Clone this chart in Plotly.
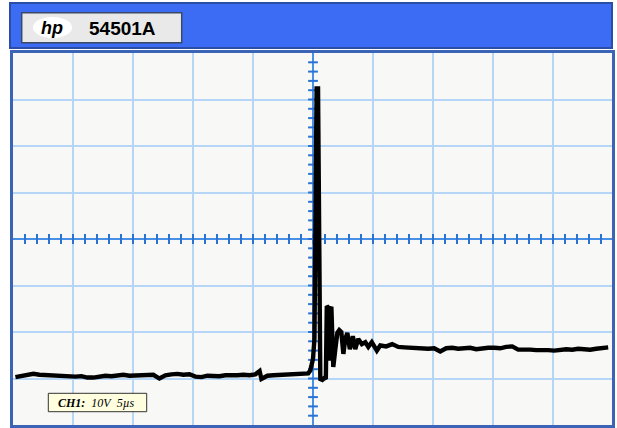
import plotly.graph_objects as go

# ---- data (time in microseconds, amplitude in volts) ----
base_t = [-24.8, -24.3, -23.8, -23.3, -22.8, -22.3, -21.8, -21.3, -20.8, -20.3,
          -19.8, -19.3, -18.8, -18.3, -17.8, -17.3, -16.8, -16.3, -15.8, -15.3,
          -14.8, -14.3, -13.8, -13.3, -12.8, -12.3, -11.8, -11.3, -10.8, -10.3,
          -9.8, -9.3, -8.8, -8.3, -7.8, -7.3, -6.8, -6.3, -5.8, -5.3,
          -4.8, -4.45, -4.3, -3.8, -3.3, -2.8, -2.3, -1.8, -1.3, -0.8, -0.4]
base_v = [-29.7, -29.5, -29.4, -29.0, -29.2, -29.3, -29.4, -29.3, -29.5, -29.6,
          -29.6, -29.5, -29.8, -29.8, -29.6, -29.4, -29.5, -29.3, -29.2, -29.4,
          -29.3, -29.2, -29.3, -29.2, -30.0, -29.3, -29.1, -29.0, -29.2, -29.1,
          -29.6, -29.7, -29.4, -29.5, -29.5, -29.3, -29.4, -29.3, -29.2, -29.3,
          -29.1, -28.4, -30.1, -29.4, -29.3, -29.2, -29.1, -29.0, -29.0, -28.9, -28.9]

edge_t = [-0.23, 0.0, 0.12, 0.30, 0.42, 0.61, 0.78, 0.94, 1.07, 1.15, 1.23, 1.32,
          1.40, 1.53, 1.69, 1.86, 2.03, 2.19, 2.36, 2.53, 2.69, 2.86, 3.07, 3.32,
          3.52, 3.77, 4.07, 4.36, 4.61, 4.90, 5.32, 5.61]
edge_v = [-28.3, -25.8, -21.5, 32.4, 32.4, -30.1, -30.3, -29.9, -30.1, -14.4, -14.6, -26.2,
          -15.1, -14.6, -27.5, -23.7, -20.2, -19.6, -20.0, -24.7, -21.5, -20.2, -23.7, -20.9,
          -23.7, -21.5, -22.6, -22.2, -23.2, -22.2, -24.0, -22.9]

tail_t = [6.1, 6.6, 7.1, 7.6, 8.1, 8.6, 9.1, 9.6, 10.1, 10.6,
          11.1, 11.6, 12.1, 12.6, 13.1, 13.6, 14.1, 14.6, 15.1, 15.6,
          16.1, 16.6, 17.1, 17.6, 18.1, 18.6, 19.1, 19.6, 20.1, 20.6,
          21.1, 21.6, 22.1, 22.6, 23.1, 23.6, 24.1, 24.6]
tail_v = [-23.1, -22.6, -23.2, -23.3, -23.4, -23.5, -23.4, -23.6, -23.5, -24.2,
          -23.5, -23.4, -23.6, -23.5, -23.4, -23.7, -23.5, -23.4, -23.4, -23.5,
          -23.2, -23.1, -23.8, -23.7, -23.8, -23.9, -23.8, -23.9, -24.0, -23.8,
          -23.7, -23.8, -23.6, -23.7, -23.8, -23.6, -23.4, -23.3]

model_label = "54501A"
channel_label = "<b><i>CH1:</i></b>&nbsp; <i>10V&nbsp; 5µs</i>"

x_range = [-25, 25]
y_range = [-40, 40]

# graticule minor ticks on the centre axes (grid positions)
minor_x = [i * 1.0 for i in range(-24, 25)]
minor_y = [i * 2.0 for i in range(-19, 20)]

fig = go.Figure()

fig.add_trace(go.Scatter(x=minor_x, y=[0] * len(minor_x), mode="markers",
                         marker=dict(symbol="line-ns", size=7,
                                     line=dict(color="#2a72d6", width=2)),
                         hoverinfo="skip", showlegend=False))
fig.add_trace(go.Scatter(x=[0] * len(minor_y), y=minor_y, mode="markers",
                         marker=dict(symbol="line-ew", size=7,
                                     line=dict(color="#2a72d6", width=2)),
                         hoverinfo="skip", showlegend=False))

fig.add_trace(go.Scatter(x=base_t + edge_t + tail_t, y=base_v + edge_v + tail_v,
                         mode="lines", line=dict(color="#000000", width=4.4),
                         showlegend=False))

axis_common = dict(showgrid=True, gridcolor="#b6d6f7", gridwidth=1.5,
                   zeroline=True, zerolinecolor="#4a90e4", zerolinewidth=2,
                   showticklabels=False, ticks="", showline=False, fixedrange=True)

fig.update_xaxes(range=x_range, dtick=5, tick0=0, **axis_common)
fig.update_yaxes(range=y_range, dtick=10, tick0=0, **axis_common)

def px(x):
    return (x - 13) / 600

def py(y):
    return (425 - y) / 372

shapes = [
    # header bar
    dict(type="rect", xref="paper", yref="paper", x0=px(10), x1=px(612), y0=py(48), y1=py(3),
         fillcolor="#3b6cf3", line=dict(color="#2a4ea8", width=2), layer="above"),
    # model button
    dict(type="rect", xref="paper", yref="paper", x0=px(21.7), x1=px(181.7), y0=py(42.7), y1=py(12.7),
         fillcolor="#e9e9e9", line=dict(color="#3a4866", width=1.5), layer="above"),
    # hp ellipse
    dict(type="circle", xref="paper", yref="paper", x0=px(33), x1=px(72), y0=py(38), y1=py(17),
         fillcolor="#ffffff", line=dict(width=0), layer="above"),
    # plot frame
    dict(type="rect", xref="paper", yref="paper", x0=px(11.5), x1=px(613.5), y0=py(426.5), y1=py(51.5),
         fillcolor="rgba(0,0,0,0)", line=dict(color="#3b64b6", width=3), layer="above"),
    # channel label box
    dict(type="rect", xref="paper", yref="paper", x0=px(48.3), x1=px(146.7), y0=py(411.7), y1=py(393.3),
         fillcolor="#ffffe0", line=dict(color="#333333", width=1), layer="above"),
]

annotations = [
    dict(xref="paper", yref="paper", x=px(52.5), y=py(28), text="<b><i>hp</i></b>",
         showarrow=False, xanchor="center", yanchor="middle",
         font=dict(family="Liberation Sans", size=18, color="#000000")),
    dict(xref="paper", yref="paper", x=px(122.5), y=py(28), text="<b>" + model_label + "</b>",
         showarrow=False, xanchor="center", yanchor="middle",
         font=dict(family="Liberation Sans", size=19, color="#000000")),
    dict(xref="paper", yref="paper", x=px(56), y=py(402.5), text=channel_label,
         showarrow=False, xanchor="left", yanchor="middle",
         font=dict(family="Liberation Serif", size=12, color="#000000")),
]

fig.update_layout(width=617, height=428,
                  margin=dict(l=13, r=4, t=53, b=3, pad=0),
                  paper_bgcolor="#ffffff", plot_bgcolor="#f8f8f6",
                  shapes=shapes, annotations=annotations, showlegend=False)

fig.write_html("out.html", config={"displayModeBar": False},
               post_script="document.body.style.margin='0';document.body.style.overflow='hidden';")
